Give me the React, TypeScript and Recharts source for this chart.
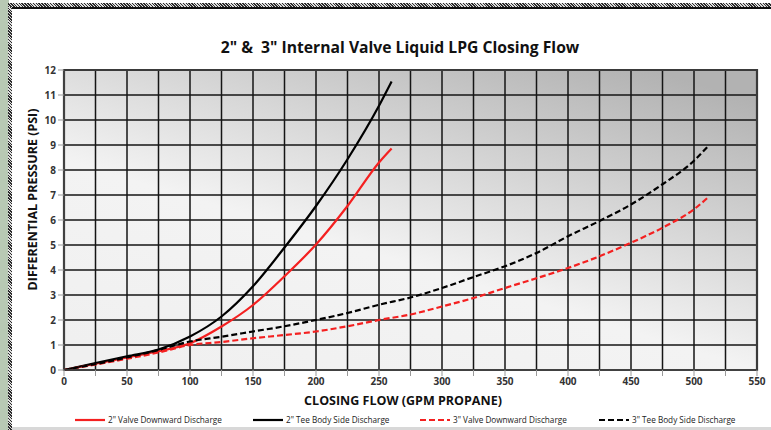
import React from "react";
import { LineChart, Line, XAxis, YAxis, CartesianGrid, ReferenceArea } from "recharts";

const TITLE = "2\" &  3\" Internal Valve Liquid LPG Closing Flow";
const X_LABEL = "CLOSING FLOW (GPM PROPANE)";
const Y_LABEL = "DIFFERENTIAL PRESSURE (PSI)";

const X_TICKS = [0, 25, 50, 75, 100, 125, 150, 175, 200, 225, 250, 275, 300, 325, 350, 375, 400, 425, 450, 475, 500, 525, 550];
const Y_TICKS = [0, 1, 2, 3, 4, 5, 6, 7, 8, 9, 10, 11, 12];

const SERIES_NAMES = [
  "2\" Valve Downward Discharge",
  "2\" Tee Body Side Discharge",
  "3\" Valve Downward Discharge",
  "3\" Tee Body Side Discharge",
];

const valve2Flow = [0, 25, 50, 75, 100, 125, 150, 175, 200, 225, 250, 260];
const valve2Psi = [0, 0.25, 0.5, 0.75, 1.07, 1.74, 2.6, 3.75, 5.02, 6.56, 8.3, 8.86];

const tee2Flow = [0, 25, 50, 75, 100, 125, 150, 175, 200, 225, 250, 260];
const tee2Psi = [0, 0.28, 0.55, 0.82, 1.34, 2.14, 3.35, 4.9, 6.56, 8.43, 10.57, 11.54];

const valve3Flow = [0, 50, 75, 100, 125, 150, 175, 200, 225, 250, 275, 300, 325, 350, 375, 400, 425, 450, 475, 500, 512];
const valve3Psi = [0, 0.45, 0.7, 1.0, 1.12, 1.27, 1.4, 1.54, 1.75, 2.0, 2.22, 2.54, 2.88, 3.28, 3.67, 4.08, 4.55, 5.09, 5.69, 6.43, 6.94];

const tee3Flow = [0, 50, 75, 100, 125, 150, 175, 200, 225, 250, 275, 300, 325, 350, 375, 400, 425, 450, 475, 500, 512];
const tee3Psi = [0, 0.5, 0.8, 1.14, 1.33, 1.54, 1.75, 2.0, 2.28, 2.61, 2.9, 3.28, 3.72, 4.15, 4.68, 5.35, 5.96, 6.62, 7.43, 8.37, 9.0];

const zip = (xs: number[], ys: number[]) => xs.map((x, i) => ({ x, y: ys[i] }));

const SERIES = [
  { name: SERIES_NAMES[0], data: zip(valve2Flow, valve2Psi), color: "#f42020", dash: undefined as string | undefined },
  { name: SERIES_NAMES[1], data: zip(tee2Flow, tee2Psi), color: "#000000", dash: undefined as string | undefined },
  { name: SERIES_NAMES[2], data: zip(valve3Flow, valve3Psi), color: "#f42020", dash: "6 3" },
  { name: SERIES_NAMES[3], data: zip(tee3Flow, tee3Psi), color: "#000000", dash: "6 3" },
];

const LEGEND_X = [75, 253, 420, 599];

const FONT = "'Open Sans', 'Liberation Sans', sans-serif";
const hatch = "repeating-linear-gradient(45deg, #2a2a2a 0px, #2a2a2a 1px, #e0e0e0 1px, #e0e0e0 2px)";

export default function App() {
  return (
    <div style={{ position: "absolute", left: 0, top: 0, width: 771, height: 430, background: "#fff", overflow: "hidden", fontFamily: FONT }}>
      <div style={{ position: "absolute", left: 0, top: 0, width: 9, height: 430, background: "#b8c9b4" }} />
      <div style={{ position: "absolute", left: 8, top: 3, width: 4, height: 427, background: hatch }} />
      <div style={{ position: "absolute", left: 8, top: 3, width: 763, height: 4, background: hatch }} />
      <div style={{ position: "absolute", left: 12, top: 7, width: 759, height: 1.5, background: "#111" }} />
      <div style={{ position: "absolute", left: 12, top: 427, width: 759, height: 3, background: "#d8d8d8" }} />

      <div style={{ position: "absolute", left: 0, top: 36, width: 800, textAlign: "center", fontSize: 15.7, fontWeight: 700, color: "#111", whiteSpace: "pre" }}>
        {TITLE}
      </div>

      <div style={{ position: "absolute", left: 0, top: 0 }}>
        <LineChart width={771} height={430} margin={{ top: 70, right: 14, bottom: 30, left: 0 }}>
          <defs>
            <linearGradient id="plotBg" x1="0.15" y1="1" x2="0.85" y2="0">
              <stop offset="0%" stopColor="#f0f0f0" />
              <stop offset="40%" stopColor="#f3f3f3" />
              <stop offset="75%" stopColor="#cdcdcd" />
              <stop offset="100%" stopColor="#b2b2b2" />
            </linearGradient>
          </defs>
          <CartesianGrid stroke="#151515" strokeWidth={1.5} fill="url(#plotBg)" fillOpacity={1} />
          <XAxis
            type="number"
            dataKey="x"
            domain={[0, 550]}
            ticks={X_TICKS}
            interval={0}
            tickFormatter={(v: number) => (v % 50 === 0 ? String(v) : "")}
            height={30}
            tick={{ fontSize: 10, fontWeight: 700, fill: "#333", fontFamily: FONT }}
            tickLine={{ stroke: "#999" }}
            axisLine={{ stroke: "#444", strokeWidth: 1.5 }}
            allowDuplicatedCategory={false}
          />
          <YAxis
            type="number"
            dataKey="y"
            domain={[0, 12]}
            ticks={Y_TICKS}
            interval={0}
            width={64}
            tick={{ fontSize: 10, fontWeight: 700, fill: "#333", fontFamily: FONT }}
            tickLine={{ stroke: "#999" }}
            axisLine={{ stroke: "#444", strokeWidth: 1.5 }}
          />
          <ReferenceArea x1={0} x2={550} y1={0} y2={12} fill="none" stroke="#3a3a3a" strokeWidth={2.2} ifOverflow="extendDomain" />
          {SERIES.map((s) => (
            <Line
              key={s.name}
              data={s.data}
              dataKey="y"
              type="monotone"
              stroke={s.color}
              strokeWidth={2.2}
              strokeDasharray={s.dash}
              dot={false}
              activeDot={false}
              isAnimationActive={false}
            />
          ))}
        </LineChart>
      </div>

      <div style={{ position: "absolute", left: 0, top: 392, width: 806, textAlign: "center", fontSize: 12.5, fontWeight: 700, color: "#111" }}>
        {X_LABEL}
      </div>
      <div style={{ position: "absolute", left: 32, top: 200, width: 0, height: 0 }}>
        <div style={{ position: "absolute", left: -120, top: -9, width: 240, textAlign: "center", transform: "rotate(-90deg)", fontSize: 12.5, fontWeight: 700, color: "#111", whiteSpace: "nowrap" }}>
          {Y_LABEL}
        </div>
      </div>

      <svg style={{ position: "absolute", left: 0, top: 410 }} width={771} height={18}>
        {SERIES.map((s, i) => (
          <g key={s.name}>
            <line x1={LEGEND_X[i]} x2={LEGEND_X[i] + 30} y1={10} y2={10} stroke={s.color} strokeWidth={2.2} strokeDasharray={s.dash} />
            <text x={LEGEND_X[i] + 33} y={13} fontSize={8.2} fontFamily={FONT} fill="#222">{s.name}</text>
          </g>
        ))}
      </svg>
    </div>
  );
}
